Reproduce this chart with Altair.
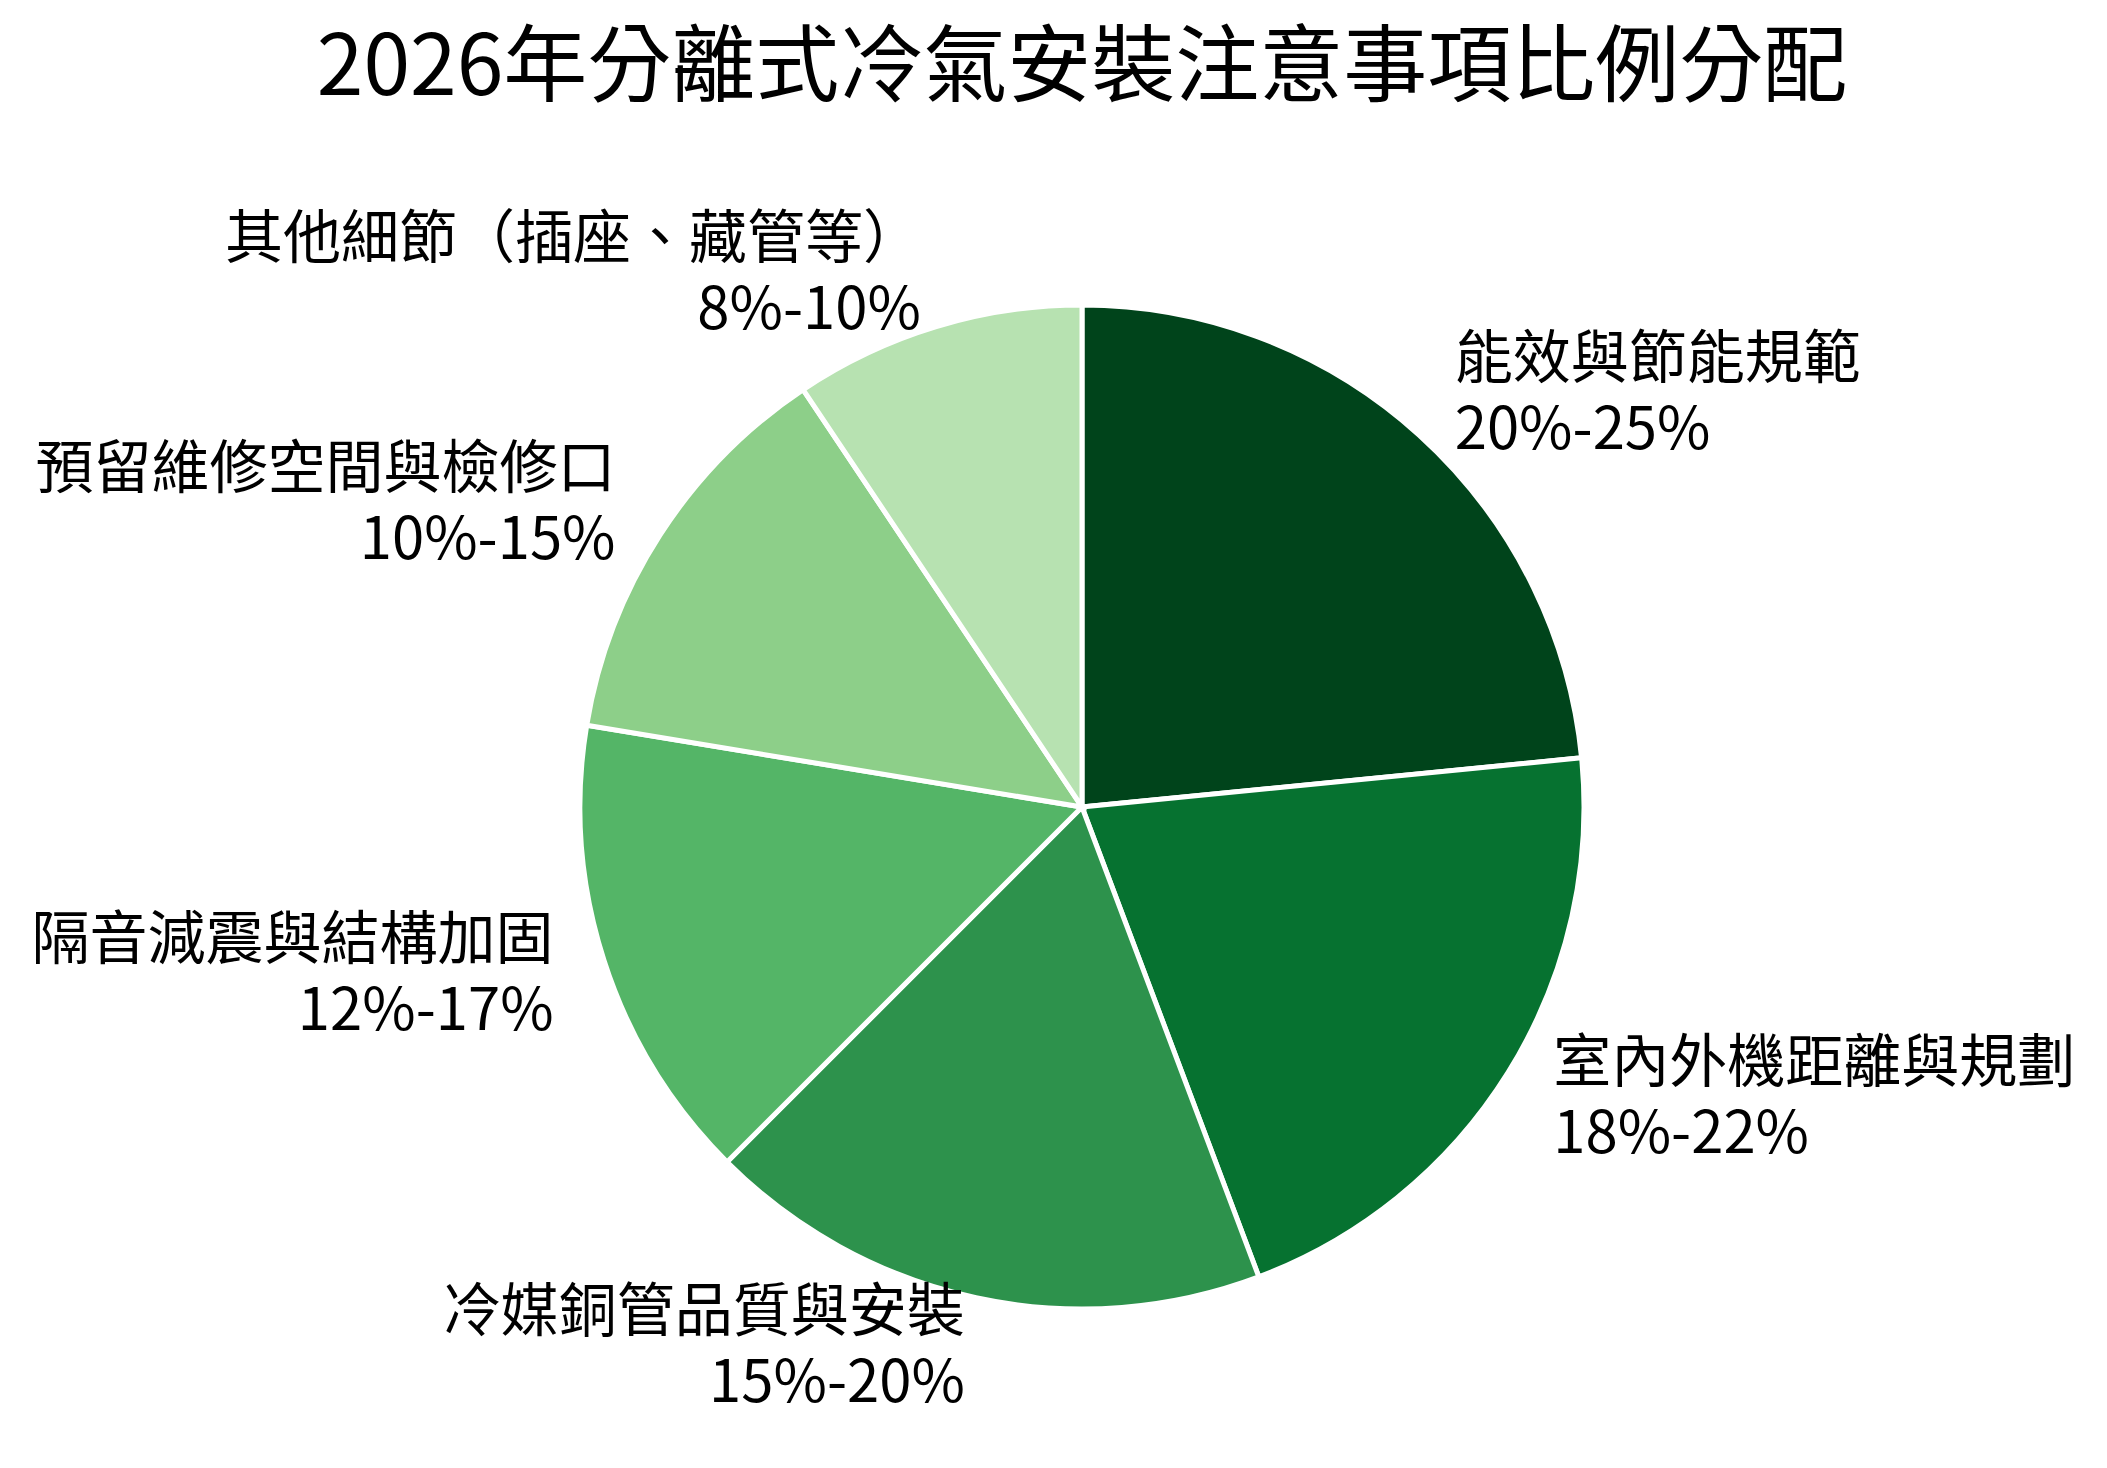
import altair as alt
import pandas as pd

names = ["能效與節能規範", "室內外機距離與規劃", "冷媒銅管品質與安裝",
         "隔音減震與結構加固", "預留維修空間與檢修口", "其他細節（插座、藏管等）"]
ranges = ["20%-25%", "18%-22%", "15%-20%", "12%-17%", "10%-15%", "8%-10%"]
values = [22.5, 20, 17.5, 14.5, 12.5, 9]
colors = ["#00441b", "#067230", "#2d924c", "#54b567", "#8dcf89", "#b7e2b1"]

df = pd.DataFrame({"name": names, "range": ranges, "value": values,
                   "order": list(range(len(names)))})

FONT = "Noto Sans CJK TC"

base = alt.Chart(df)

arcs = base.mark_arc(outerRadius=502, stroke="white", strokeWidth=5).encode(
    theta=alt.Theta("value:Q", stack=True),
    color=alt.Color("name:N", scale=alt.Scale(domain=names, range=colors), legend=None),
    order=alt.Order("order:Q"),
)

lab = base.transform_window(
    cum="sum(value)", sort=[alt.SortField("order")], frame=[None, 0]
).transform_joinaggregate(
    total="sum(value)"
).transform_calculate(
    mid="datum.cum - datum.value / 2",
    frac="(datum.cum - datum.value / 2) / datum.total",
    label="datum.name + '\\n' + datum.range",
)

def text_layer(cond, align):
    return lab.transform_filter(cond).mark_text(
        radius=555, fontSize=58, lineHeight=71, lineBreak="\n",
        baseline="middle", align=align, font=FONT, color="black", dy=-35,
    ).encode(
        theta=alt.Theta("mid:Q", stack=False),
        text="label:N",
    )

right = text_layer("datum.frac < 0.5", "left")
left = text_layer("datum.frac >= 0.5", "right")

chart = alt.layer(arcs, right, left).properties(
    width=2032, height=1298,
    title=alt.TitleParams("2026年分離式冷氣安裝注意事項比例分配", fontSize=84,
                          font=FONT, fontWeight="normal", color="black",
                          anchor="middle", offset=45),
    autosize=alt.AutoSizeParams(type="none"),
    padding={"left": 58, "top": 150, "right": 0, "bottom": 0},
).configure_view(stroke=None)

chart.save("out.html", embed_options={"renderer": "svg", "actions": False})
